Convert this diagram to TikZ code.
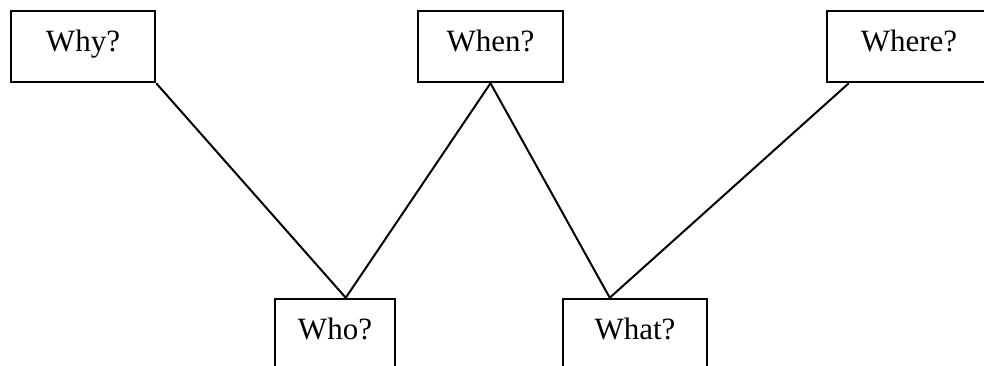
\documentclass[tikz,border=0pt]{standalone}
\usepackage{fontspec}
\setmainfont{Liberation Serif}
\usetikzlibrary{calc}
\begin{document}
\begin{tikzpicture}[x=1pt,y=1pt,
  qbox/.style={draw,line width=2.5pt,inner sep=0pt,rectangle,text height=19pt,text depth=8pt,font=\fontsize{31}{37}\selectfont},
  link/.style={line width=2pt}]
\useasboundingbox (0,0) rectangle (984,366);
\clip (0,0) rectangle (984,366);
\node[qbox,minimum width=144pt,minimum height=71pt] (why) at (83,319.5) {Why?};
\node[qbox,minimum width=145pt,minimum height=71pt] (when) at (490.5,319.5) {When?};
\node[qbox,minimum width=164pt,minimum height=71pt] (where) at (909,319.5) {Where?};
\node[qbox,minimum width=120pt,minimum height=71pt] (who) at (335,31.5) {Who?};
\node[qbox,minimum width=144pt,minimum height=71pt] (what) at (635,31.5) {What?};
\coordinate (whoTop) at ($(who.north west)+(72,0)$);
\coordinate (whatTop) at ($(what.north west)+(48,0)$);
\coordinate (whereFoot) at ($(where.south west)+(23,0)$);
\draw[link] (why.south east) -- (whoTop);
\draw[link] (when.south) -- (whoTop);
\draw[link] (when.south) -- (whatTop);
\draw[link] (whereFoot) -- (whatTop);
\end{tikzpicture}
\end{document}
